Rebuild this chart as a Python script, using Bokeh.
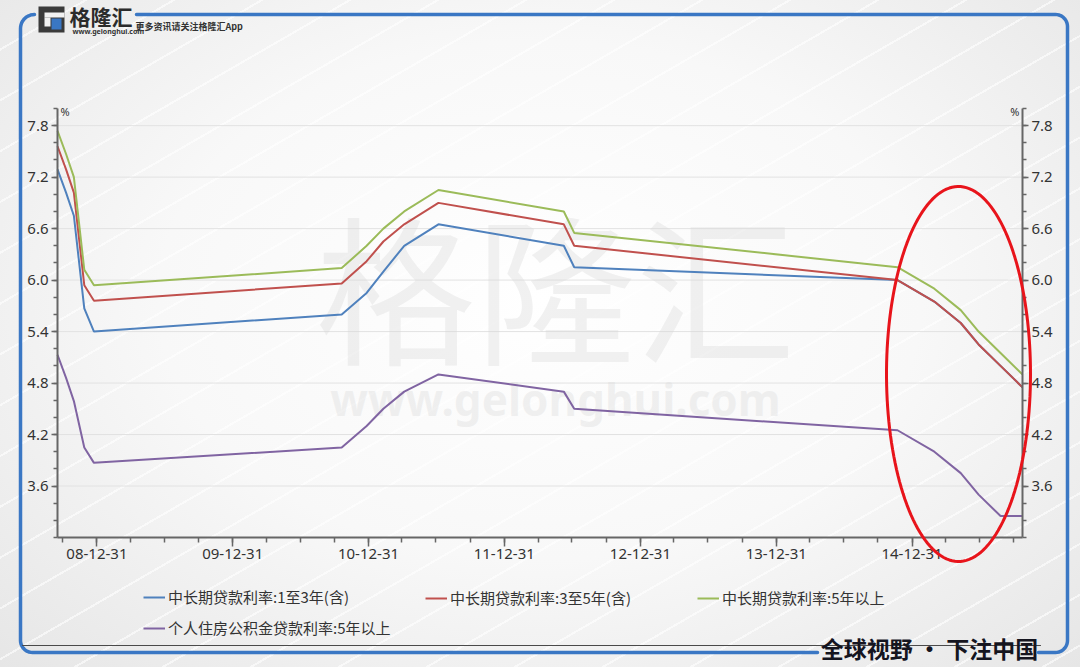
import numpy as np
import pandas as pd
from bokeh.plotting import figure
from bokeh.models import (LinearAxis, FixedTicker, DatetimeTickFormatter, Legend,
                          LegendItem, Label, PolyAnnotation, Range1d, ColumnDataSource,
                          PrintfTickFormatter)
from bokeh.embed import file_html
from bokeh.resources import INLINE

# ---------------- data ----------------
dates = ["2008-09-16", "2008-10-09", "2008-10-30", "2008-11-27", "2008-12-23",
         "2010-10-20", "2010-12-26", "2011-02-09", "2011-04-06", "2011-07-07",
         "2012-06-08", "2012-07-06", "2014-11-22", "2015-03-01", "2015-05-11",
         "2015-06-28", "2015-08-26", "2015-10-24"]
rate_1_3 = [7.29, 7.02, 6.75, 5.67, 5.40, 5.60, 5.85, 6.10, 6.40, 6.65,
            6.40, 6.15, 6.00, 5.75, 5.50, 5.25, 5.00, 4.75]
rate_3_5 = [7.56, 7.29, 7.02, 5.94, 5.76, 5.96, 6.22, 6.45, 6.65, 6.90,
            6.65, 6.40, 6.00, 5.75, 5.50, 5.25, 5.00, 4.75]
rate_5_plus = [7.74, 7.47, 7.20, 6.12, 5.94, 6.14, 6.40, 6.60, 6.80, 7.05,
               6.80, 6.55, 6.15, 5.90, 5.65, 5.40, 5.15, 4.90]
fund_5_plus = [5.13, 4.86, 4.59, 4.05, 3.87, 4.05, 4.30, 4.50, 4.70, 4.90,
               4.70, 4.50, 4.25, 4.00, 3.75, 3.50, 3.25, 3.25]

series_names = ["中长期贷款利率:1至3年(含)", "中长期贷款利率:3至5年(含)",
                "中长期贷款利率:5年以上", "个人住房公积金贷款利率:5年以上"]
series_colors = ["#4f81bd", "#c0504d", "#9bbb59", "#8064a2"]

y_ticks = [3.6, 4.2, 4.8, 5.4, 6.0, 6.6, 7.2, 7.8]
x_tick_dates = ["2008-12-31", "2009-12-31", "2010-12-31", "2011-12-31",
                "2012-12-31", "2013-12-31", "2014-12-31"]
x_start, x_end = "2008-09-16", "2015-10-24"
y_lo, y_hi = 3.0, 8.0


def ms(d):
    return pd.Timestamp(d).value / 1e6


# ---------------- geometry of the chart area (canvas pixels) ----------------
W, H = 1080, 667
PL, PR, PT, PB = 57, 1022, 108, 537      # plot box inside the canvas
x0, x1 = ms(x_start), ms(x_end)


def fx(px):
    return x0 + (px - PL) / (PR - PL) * (x1 - x0)


def fy(py):
    return y_hi - (py - PT) / (PB - PT) * (y_hi - y_lo)


p = figure(width=W, height=H, x_axis_type="datetime",
           x_range=Range1d(fx(0), fx(W)), y_range=Range1d(fy(H), fy(0)),
           output_backend="svg", toolbar_location=None, title=None,
           min_border=0, min_border_left=0, min_border_right=0,
           min_border_top=0, min_border_bottom=0)
p.background_fill_alpha = 0
p.border_fill_alpha = 0
p.outline_line_color = None
p.styles = {"background": (
    "repeating-linear-gradient(150deg, rgba(255,255,255,0) 0px, rgba(255,255,255,0) 42px, "
    "rgba(255,255,255,0.6) 42px, rgba(255,255,255,0.6) 44px), "
    "radial-gradient(ellipse at 50% 45%, #ffffff 0%, #f8f8f8 50%, #e6e6e6 100%)")}
p.xgrid.visible = False
p.ygrid.visible = False

# watermark
p.add_layout(Label(x=fx(555), y=fy(282), text="格隆汇", text_font="Noto Sans CJK SC",
                   text_font_size="160px", text_color="#d8d8d8", text_alpha=0.35,
                   text_align="center", text_baseline="middle", level="underlay"))
p.add_layout(Label(x=fx(555), y=fy(398), text="www.gelonghui.com", text_font="Noto Sans",
                   text_font_size="44px", text_font_style="bold", text_color="#d8d8d8",
                   text_alpha=0.35, text_align="center", text_baseline="middle",
                   level="underlay"))

# horizontal grid lines at the major y ticks
p.segment(x0=[x0] * len(y_ticks), x1=[x1] * len(y_ticks), y0=y_ticks, y1=y_ticks,
          line_color="#e2e2e2", line_width=1, level="underlay")

# ---------------- axes ----------------
x_minor = []
for yr in range(2008, 2016):
    for md in ["03-31", "06-30", "09-30", "12-31"]:
        v = ms(f"{yr}-{md}")
        if x0 <= v <= x1:
            x_minor.append(v)
fmt = "%y-%m-%d"
xax = p.xaxis[0]
xax.ticker = FixedTicker(ticks=[ms(d) for d in x_tick_dates], minor_ticks=x_minor)
xax.formatter = DatetimeTickFormatter(days=fmt, months=fmt, years=fmt)
xax.fixed_location = y_lo
xax.bounds = (x0, x1)

y_minor = [round(y_lo + 0.2 * i, 1) for i in range(26)]
yl = p.yaxis[0]
yl.ticker = FixedTicker(ticks=y_ticks, minor_ticks=y_minor)
yl.formatter = PrintfTickFormatter(format="%.1f")
yl.fixed_location = x0
yl.bounds = (y_lo, y_hi)
yr_ax = LinearAxis(ticker=FixedTicker(ticks=y_ticks, minor_ticks=y_minor),
                   formatter=PrintfTickFormatter(format="%.1f"),
                   fixed_location=x1, bounds=(y_lo, y_hi))
p.add_layout(yr_ax, "right")

for ax in (xax, yl, yr_ax):
    ax.axis_line_color = "#666666"
    ax.axis_line_width = 2
    ax.major_tick_line_color = "#666666"
    ax.minor_tick_line_color = "#666666"
    ax.major_tick_line_width = 1.5
    ax.minor_tick_line_width = 1.5
    ax.major_tick_in = 0
    ax.minor_tick_in = 0
    ax.major_label_text_font = "Noto Sans"
    ax.major_label_text_font_size = "15px"
    ax.major_label_text_color = "#333333"

xax.major_tick_out = 9
xax.minor_tick_out = 5
xax.major_label_standoff = 2
for ax in (yl, yr_ax):
    ax.major_tick_out = 6
    ax.minor_tick_out = 4
    ax.major_label_standoff = 3

# ---------------- lines ----------------
src = ColumnDataSource(dict(x=[ms(d) for d in dates], r13=rate_1_3, r35=rate_3_5,
                            r5=rate_5_plus, f5=fund_5_plus))
rs = []
for col, c in zip(["r13", "r35", "r5", "f5"], series_colors):
    rs.append(p.line("x", col, source=src, line_color=c, line_width=2))

# legends (location = offset of legend's bottom-left from canvas bottom-left)
common = dict(background_fill_alpha=0, border_line_alpha=0, padding=0, margin=0,
              spacing=10, glyph_width=22, glyph_height=20, label_height=20,
              label_standoff=3, label_text_font="Noto Sans CJK SC",
              label_text_font_size="15px", label_text_color="#333333")
legA = Legend(items=[LegendItem(label=series_names[0], renderers=[rs[0]]),
                     LegendItem(label=series_names[3], renderers=[rs[3]])],
              location=(143, H - 638), orientation="vertical", **common)
legB = Legend(items=[LegendItem(label=series_names[1], renderers=[rs[1]])],
              location=(425, H - 608), **common)
legC = Legend(items=[LegendItem(label=series_names[2], renderers=[rs[2]])],
              location=(697, H - 608), **common)
for lg in (legA, legB, legC):
    p.add_layout(lg)

# "%" unit labels
p.add_layout(Label(x=fx(60), y=fy(111), text="%", text_font="Noto Sans",
                   text_font_size="11px", text_color="#333333", text_baseline="middle"))
p.add_layout(Label(x=fx(1019), y=fy(111), text="%", text_font="Noto Sans",
                   text_font_size="11px", text_color="#333333", text_baseline="middle",
                   text_align="right"))

# red highlight ellipse
th = np.linspace(0, 2 * np.pi, 160)
p.add_layout(PolyAnnotation(xs=[fx(958 + 72 * np.cos(t)) for t in th],
                            ys=[fy(373.5 + 187.5 * np.sin(t)) for t in th],
                            fill_alpha=0, line_color="#e8141b", line_alpha=1, line_width=3))


# ---------------- card decorations ----------------
def polyline(pts, color, width):
    xs = [fx(a) for a, b in pts]
    ys = [fy(b) for a, b in pts]
    p.add_layout(PolyAnnotation(xs=xs + xs[::-1], ys=ys + ys[::-1], fill_alpha=0,
                                line_color=color, line_alpha=1, line_width=width,
                                line_join="round"))


def arc(cx, cy, r, a0, a1, n=12):
    return [(cx + r * np.cos(np.radians(a)), cy + r * np.sin(np.radians(a)))
            for a in np.linspace(a0, a1, n)]


blue = "#3a77c4"
left_path = arc(34, 28, 14, 270, 180) + [(20, 640)] + arc(32, 640, 12, 180, 90) + [(817, 652)]
polyline(left_path, blue, 3.5)
right_path = [(136, 14)] + arc(1055, 26, 12, 270, 360) + [(1067, 640)] + arc(1055, 640, 12, 0, 90) + [(1038, 652)]
polyline(right_path, blue, 3.5)
polyline([(22, 645), (1040, 645)], "#4a4a4a", 1.2)

p.add_layout(Label(x=fx(929), y=fy(647), text="全球视野 · 下注中国", text_font="Noto Sans CJK SC",
                   text_font_size="23px", text_font_style="bold", text_color="#15151f",
                   text_align="center", text_baseline="middle"))


# logo
def box(l, t, r, b, color):
    p.add_layout(PolyAnnotation(xs=[fx(l), fx(r), fx(r), fx(l)], ys=[fy(t), fy(t), fy(b), fy(b)],
                                fill_color=color, fill_alpha=1, line_alpha=0))


box(38, 6, 64, 32, "#3b3b3b")
box(44, 12, 64, 17, "#f2f2f2")
box(44, 17, 50, 26, "#f2f2f2")
box(51, 18, 61, 29, "#3a77c4")
p.add_layout(Label(x=fx(69), y=fy(15), text="格隆汇", text_font="Noto Sans CJK SC",
                   text_font_size="21px", text_font_style="bold", text_color="#2b2b2b",
                   text_baseline="middle"))
p.add_layout(Label(x=fx(72), y=fy(31), text="www.gelonghui.com", text_font="Noto Sans",
                   text_font_size="7px", text_font_style="bold", text_color="#333333",
                   text_baseline="middle"))
p.add_layout(Label(x=fx(135), y=fy(26), text="更多资讯请关注格隆汇App", text_font="Noto Sans CJK SC",
                   text_font_size="9px", text_font_style="bold", text_color="#333333",
                   text_baseline="middle"))

open("out.html", "w").write(file_html(p, INLINE))
